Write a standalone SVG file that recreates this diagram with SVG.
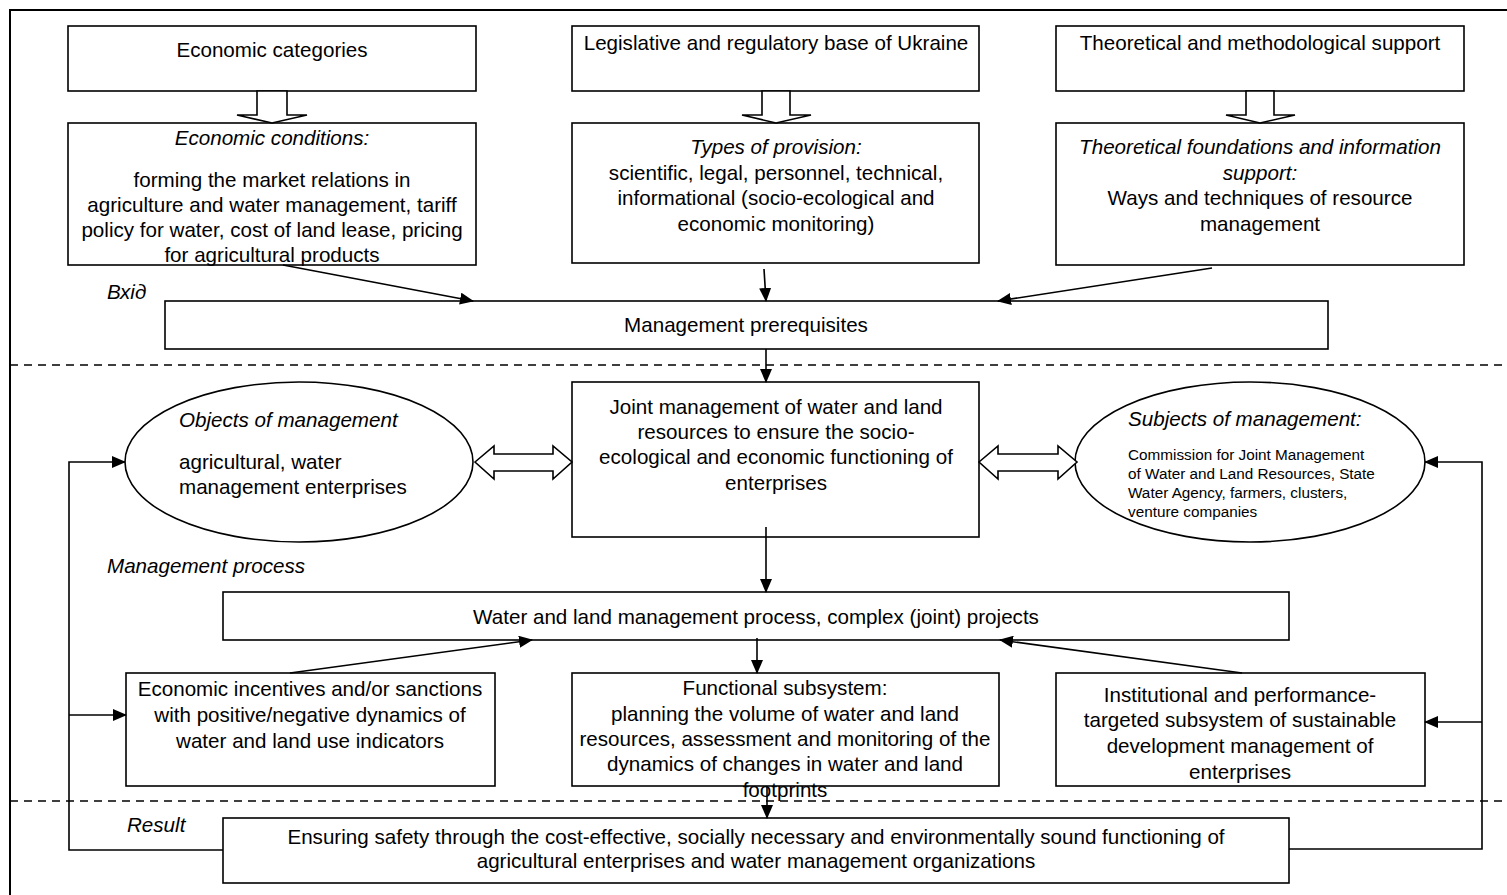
<svg xmlns="http://www.w3.org/2000/svg" width="1507" height="895" viewBox="0 0 1507 895">
<style>
text{font-family:"Liberation Sans",Arial,sans-serif;font-size:20.6px;fill:#000}
.c{text-anchor:middle}
.i{font-style:italic}
.s{font-size:15.3px}
.box{fill:#fff;stroke:#000;stroke-width:1.6}
.ell{fill:#fff;stroke:#000;stroke-width:1.6}
.hol{fill:#fff;stroke:#000;stroke-width:1.6;stroke-linejoin:miter}
.ln{fill:none;stroke:#000;stroke-width:1.6}
.dash{fill:none;stroke:#000;stroke-width:1.6;stroke-dasharray:8 6}
</style>
<defs>
<marker id="ah" markerUnits="userSpaceOnUse" markerWidth="14" markerHeight="12" refX="13" refY="6" orient="auto">
<path d="M0,0 L14,6 L0,12 z" fill="#000"/>
</marker>
</defs>
<path d="M10,895 V10 H1507" fill="none" stroke="#000" stroke-width="2"/>
<line class="dash" x1="10" y1="365" x2="1507" y2="365"/>
<line class="dash" x1="10" y1="801" x2="1507" y2="801"/>
<text class="i" x="107" y="299">Вхід</text>
<text class="i" x="107" y="573">Management process</text>
<text class="i" x="127" y="832">Result</text>

<g id="economic-categories">
<rect class="box" x="68" y="26" width="408" height="65"/>
<text class="c" x="272" y="57">Economic categories</text>
</g>
<g id="economic-conditions">
<rect class="box" x="68" y="123" width="408" height="142"/>
<text class="c i" x="272" y="145">Economic conditions:</text>
<text class="c" x="272" y="187">forming the market relations in</text>
<text class="c" x="272" y="212">agriculture and water management, tariff</text>
<text class="c" x="272" y="237">policy for water, cost of land lease, pricing</text>
<text class="c" x="272" y="262">for agricultural products</text>
</g>
<g id="legislative-base">
<rect class="box" x="572" y="26" width="407" height="65"/>
<text class="c" x="776" y="50">Legislative and regulatory base of Ukraine</text>
</g>
<g id="types-of-provision">
<rect class="box" x="572" y="123" width="407" height="140"/>
<text class="c i" x="776" y="154">Types of provision:</text>
<text class="c" x="776" y="180">scientific, legal, personnel, technical,</text>
<text class="c" x="776" y="205">informational (socio-ecological and</text>
<text class="c" x="776" y="231">economic monitoring)</text>
</g>
<g id="theoretical-support">
<rect class="box" x="1056" y="26" width="408" height="65"/>
<text class="c" x="1260" y="50">Theoretical and methodological support</text>
</g>
<g id="theoretical-foundations">
<rect class="box" x="1056" y="123" width="408" height="142"/>
<text class="c i" x="1260" y="154">Theoretical foundations and information</text>
<text class="c i" x="1260" y="180">support:</text>
<text class="c" x="1260" y="205">Ways and techniques of resource</text>
<text class="c" x="1260" y="231">management</text>
</g>
<g id="management-prerequisites">
<rect class="box" x="165" y="301" width="1163" height="48"/>
<text class="c" x="746" y="332">Management prerequisites</text>
</g>
<g id="objects-of-management">
<ellipse class="ell" cx="299" cy="462" rx="174" ry="80"/>
<text class="i" x="179" y="427">Objects of management</text>
<text x="179" y="469">agricultural, water</text>
<text x="179" y="494">management enterprises</text>
</g>
<g id="joint-management">
<rect class="box" x="572" y="382" width="407" height="155"/>
<text class="c" x="776" y="414">Joint management of water and land</text>
<text class="c" x="776" y="439">resources to ensure the socio-</text>
<text class="c" x="776" y="464">ecological and economic functioning of</text>
<text class="c" x="776" y="490">enterprises</text>
</g>
<g id="subjects-of-management">
<ellipse class="ell" cx="1250" cy="462" rx="175" ry="80"/>
<text class="i" x="1128" y="426">Subjects of management:</text>
<text class="s" x="1128" y="460">Commission for Joint Management</text>
<text class="s" x="1128" y="479">of Water and Land Resources, State</text>
<text class="s" x="1128" y="498">Water Agency, farmers, clusters,</text>
<text class="s" x="1128" y="517">venture companies</text>
</g>
<g id="water-land-process">
<rect class="box" x="223" y="592" width="1066" height="48"/>
<text class="c" x="756" y="624">Water and land management process, complex (joint) projects</text>
</g>
<g id="economic-incentives">
<rect class="box" x="126" y="673" width="369" height="113"/>
<text class="c" x="310" y="696">Economic incentives and/or sanctions</text>
<text class="c" x="310" y="722">with positive/negative dynamics of</text>
<text class="c" x="310" y="748">water and land use indicators</text>
</g>
<g id="functional-subsystem">
<rect class="box" x="572" y="673" width="427" height="113"/>
<text class="c" x="785" y="695">Functional subsystem:</text>
<text class="c" x="785" y="721">planning the volume of water and land</text>
<text class="c" x="785" y="746">resources, assessment and monitoring of the</text>
<text class="c" x="785" y="771">dynamics of changes in water and land</text>
<text class="c" x="785" y="797">footprints</text>
</g>
<g id="institutional-subsystem">
<rect class="box" x="1056" y="673" width="369" height="113"/>
<text class="c" x="1240" y="702">Institutional and performance-</text>
<text class="c" x="1240" y="727">targeted subsystem of sustainable</text>
<text class="c" x="1240" y="753">development management of</text>
<text class="c" x="1240" y="779">enterprises</text>
</g>
<g id="result">
<rect class="box" x="223" y="818" width="1066" height="65"/>
<text class="c" x="756" y="844">Ensuring safety through the cost-effective, socially necessary and environmentally sound functioning of</text>
<text class="c" x="756" y="868">agricultural enterprises and water management organizations</text>
</g>

<g id="connectors">
<polygon class="hol" points="257,91 287,91 287,115 307,115 272,123 237,115 257,115"/>
<polygon class="hol" points="762,91 790,91 790,115 811,115 776,123 742,115 762,115"/>
<polygon class="hol" points="1246,91 1274,91 1274,115 1295,115 1260,123 1226,115 1246,115"/>
<line class="ln" x1="283" y1="265" x2="473" y2="301" marker-end="url(#ah)"/>
<line class="ln" x1="764" y1="269" x2="766" y2="301" marker-end="url(#ah)"/>
<line class="ln" x1="1212" y1="268" x2="998" y2="301" marker-end="url(#ah)"/>
<line class="ln" x1="766" y1="349" x2="766" y2="382" marker-end="url(#ah)"/>
<polygon class="hol" points="475,462 494,446 494,454 553,454 553,446 572,462 553,479 553,471 494,471 494,479"/>
<polygon class="hol" points="979,462 998,446 998,454 1058,454 1058,446 1077,462 1058,479 1058,471 998,471 998,479"/>
<line class="ln" x1="766" y1="527" x2="766" y2="592" marker-end="url(#ah)"/>
<line class="ln" x1="290" y1="673" x2="532" y2="640" marker-end="url(#ah)"/>
<line class="ln" x1="757" y1="638" x2="757" y2="673" marker-end="url(#ah)"/>
<line class="ln" x1="1242" y1="673" x2="1000" y2="640" marker-end="url(#ah)"/>
<line class="ln" x1="767" y1="786" x2="767" y2="818" marker-end="url(#ah)"/>
<polyline class="ln" points="223,850 69,850 69,462 125,462" marker-end="url(#ah)"/>
<line class="ln" x1="69" y1="715" x2="126" y2="715" marker-end="url(#ah)"/>
<polyline class="ln" points="1289,849 1482,849 1482,462 1425,462" marker-end="url(#ah)"/>
<line class="ln" x1="1482" y1="722" x2="1425" y2="722" marker-end="url(#ah)"/>
</g>
</svg>
